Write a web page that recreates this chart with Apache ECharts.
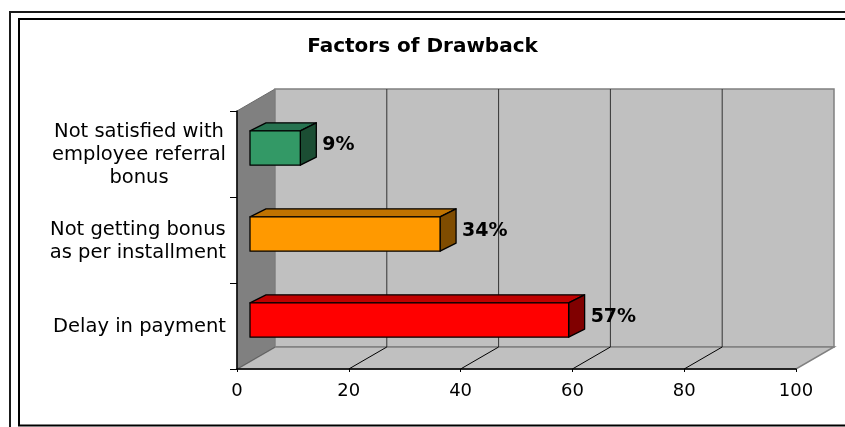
<!DOCTYPE html>
<html>
<head>
<meta charset="utf-8">
<title>Factors of Drawback</title>
<script src="https://cdn.jsdelivr.net/npm/echarts@6/dist/echarts.min.js"></script>
<style>
  html, body { margin: 0; padding: 0; background: #ffffff; }
  #chart { width: 845px; height: 427px; }
</style>
</head>
<body>
<div id="chart"></div>
<script>
// Categories listed bottom to top, as the category axis grows upward in ECharts
const categories = [
  'Delay in payment',
  'Not getting bonus\nas per installment',
  'Not satisfied with\nemployee referral\nbonus'
];
// Share of respondents (%) for each factor
const shares = [57, 34, 9];
// Value axis tick labels
const xTicks = [0, 20, 40, 60, 80, 100];

// Face colours for each bar: front, top, side
const frontColors = ['#FF0000', '#FF9900', '#339966'];
const topColors = ['#C00000', '#C07300', '#267350'];
const sideColors = ['#800000', '#7F4C00', '#1B4D33'];

// Pseudo-3D projection: offset of the back wall from the front plane
const WALL_DX = 38, WALL_DY = -22;
// Offset of a bar's front face from the front plane, and its extrusion
const BAR_DX = 13, BAR_DY = -6;
const EXT_DX = 16, EXT_DY = -8;

const FONT = 'DejaVu Sans';
const CAT_FONT = '19.5px "' + FONT + '"';
const CAT_MARGIN = 11;

const chart = echarts.init(document.getElementById('chart'), null, { renderer: 'canvas' });

// widest line of a multi-line label, so its lines can be centred as a right-aligned block
const measureCtx = document.createElement('canvas').getContext('2d');
function blockWidth(label) {
  measureCtx.font = CAT_FONT;
  return Math.max.apply(null, label.split('\n').map(function (s) { return measureCtx.measureText(s).width; }));
}

function renderWalls(params, api) {
  const cs = params.coordSys;
  const top = cs.y, bottom = cs.y + cs.height;
  const x0 = api.coord([xTicks[0], 0])[0];
  const x1 = api.coord([xTicks[xTicks.length - 1], 0])[0];
  const children = [];
  // side wall
  children.push({
    type: 'polygon',
    shape: { points: [[x0, top], [x0 + WALL_DX, top + WALL_DY], [x0 + WALL_DX, bottom + WALL_DY], [x0, bottom]] },
    style: { fill: '#808080', stroke: '#6a6a6a', lineWidth: 1 }
  });
  // back wall
  children.push({
    type: 'rect',
    shape: { x: x0 + WALL_DX, y: top + WALL_DY, width: x1 - x0, height: bottom - top },
    style: { fill: '#C0C0C0', stroke: '#808080', lineWidth: 1.5 }
  });
  // floor
  children.push({
    type: 'polygon',
    shape: { points: [[x0, bottom], [x1, bottom], [x1 + WALL_DX, bottom + WALL_DY], [x0 + WALL_DX, bottom + WALL_DY]] },
    style: { fill: '#C0C0C0', stroke: '#808080', lineWidth: 1.5 }
  });
  // grid lines on the back wall and the floor
  xTicks.forEach(function (t, i) {
    const x = api.coord([t, 0])[0];
    if (i > 0 && i < xTicks.length - 1) {
      children.push({
        type: 'line',
        shape: { x1: x + WALL_DX, y1: top + WALL_DY, x2: x + WALL_DX, y2: bottom + WALL_DY },
        style: { stroke: '#333333', lineWidth: 1 }
      });
    }
    if (i < xTicks.length - 1) {
      children.push({
        type: 'line',
        shape: { x1: x, y1: bottom, x2: x + WALL_DX, y2: bottom + WALL_DY },
        style: { stroke: i === 0 ? '#606060' : '#000000', lineWidth: 1 }
      });
    }
  });
  return { type: 'group', children: children };
}

function renderBar(params, api) {
  const v = api.value(0);
  const cat = api.value(1);
  const p0 = api.coord([0, cat]);
  const p1 = api.coord([v, cat]);
  const band = api.size([0, 1])[1];
  const h = band * 0.4;
  const fx0 = p0[0] + BAR_DX;
  const fx1 = p1[0] + BAR_DX;
  const cy = p0[1] + BAR_DY;
  const top = cy - h / 2, bot = cy + h / 2;
  const edge = { stroke: '#000000', lineWidth: 1.3, lineJoin: 'round' };
  return {
    type: 'group',
    children: [
      {
        type: 'polygon',
        shape: { points: [[fx0, top], [fx0 + EXT_DX, top + EXT_DY], [fx1 + EXT_DX, top + EXT_DY], [fx1, top]] },
        style: Object.assign({ fill: topColors[cat] }, edge)
      },
      {
        type: 'polygon',
        shape: { points: [[fx1, top], [fx1 + EXT_DX, top + EXT_DY], [fx1 + EXT_DX, bot + EXT_DY], [fx1, bot]] },
        style: Object.assign({ fill: sideColors[cat] }, edge)
      },
      {
        type: 'rect',
        shape: { x: fx0, y: top, width: fx1 - fx0, height: h },
        style: Object.assign({ fill: frontColors[cat] }, edge)
      },
      {
        type: 'text',
        x: fx1 + EXT_DX + 6,
        y: cy - 3,
        style: {
          text: v + '%',
          fill: '#000000',
          font: 'bold 19px "' + FONT + '"',
          align: 'left',
          verticalAlign: 'middle'
        }
      }
    ]
  };
}

// category names: right-aligned block next to the axis, lines centred inside it
function renderCategory(params, api) {
  const cat = api.value(1);
  const p = api.coord([0, cat]);
  const label = categories[cat];
  const w = blockWidth(label);
  return {
    type: 'text',
    x: p[0] - CAT_MARGIN - w / 2,
    y: p[1] + 1,
    style: {
      text: label,
      fill: '#000000',
      font: CAT_FONT,
      lineHeight: 23,
      align: 'center',
      verticalAlign: 'middle'
    }
  };
}

const option = {
  backgroundColor: '#ffffff',
  animation: false,
  title: {
    text: 'Factors of Drawback',
    left: 'center',
    top: 37,
    padding: 0,
    textStyle: { fontFamily: FONT, fontWeight: 'bold', fontSize: 20, color: '#000000' }
  },
  grid: { left: 237, right: 49, top: 111, bottom: 58, containLabel: false },
  xAxis: {
    type: 'value',
    min: xTicks[0],
    max: xTicks[xTicks.length - 1],
    interval: xTicks[1] - xTicks[0],
    z: 10,
    axisLine: { show: true, lineStyle: { color: '#000000', width: 1.5 } },
    axisTick: { show: true, length: 3, lineStyle: { color: '#000000' } },
    axisLabel: { margin: 13, fontFamily: FONT, fontSize: 18, color: '#000000' },
    splitLine: { show: false }
  },
  yAxis: {
    type: 'category',
    data: categories,
    z: 10,
    axisLine: { show: true, lineStyle: { color: '#000000', width: 1.5 } },
    axisTick: { show: true, length: 7, lineStyle: { color: '#000000' } },
    axisLabel: { show: false },
    splitLine: { show: false }
  },
  graphic: [
    { type: 'rect', z: 100, shape: { x: 10, y: 12, width: 900, height: 500 }, style: { fill: 'none', stroke: '#1a1a1a', lineWidth: 2 } },
    { type: 'rect', z: 100, shape: { x: 19, y: 19, width: 900, height: 406.5 }, style: { fill: 'none', stroke: '#000000', lineWidth: 2 } }
  ],
  series: [
    {
      type: 'custom',
      name: 'walls',
      z: 1,
      silent: true,
      renderItem: renderWalls,
      data: [[0, 0]]
    },
    {
      type: 'custom',
      name: 'Share',
      z: 5,
      renderItem: renderBar,
      encode: { x: 0, y: 1 },
      data: shares.map(function (v, i) { return [v, i]; })
    },
    {
      type: 'custom',
      name: 'category names',
      z: 5,
      silent: true,
      clip: false,
      renderItem: renderCategory,
      encode: { x: 0, y: 1 },
      data: categories.map(function (c, i) { return [0, i]; })
    }
  ]
};

chart.setOption(option);
</script>
</body>
</html>
